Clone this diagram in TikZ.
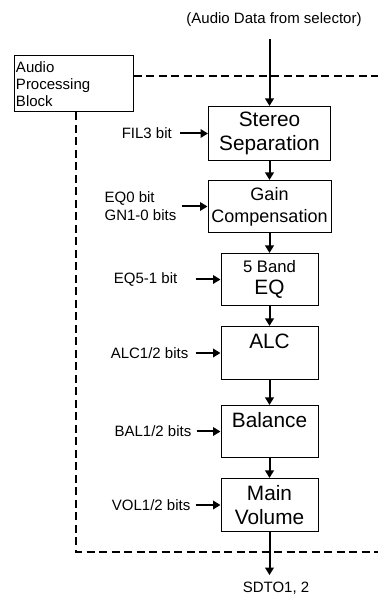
\documentclass[tikz,border=0pt]{standalone}
\usepackage{fontspec}
\setmainfont{Liberation Sans}
\usetikzlibrary{positioning}
\usetikzlibrary{arrows.meta}
\tikzset{x=1pt, y=1pt,
    block/.style={
        draw,
        line width=1pt,
        align=center,
        inner sep=2pt,
        minimum width=97pt,
        minimum height=52pt,
        font=\fontsize{20.8}{24.5}\selectfont},
    tag/.style={
        inner sep=0pt,
        align=left,
        font=\fontsize{15}{18}\selectfont},
    frame/.style={
        line width=2pt,
        dash pattern=on 8pt off 4.5pt},
    flow/.style={
        draw,
        line width=2pt,
        -{Triangle[length=7.5pt,width=8.5pt]}}}

\begin{document}
\begin{tikzpicture}
        \useasboundingbox (0,0) rectangle (378,599);

        \node[block, minimum width=122pt, minimum height=54pt] (sep) at (269.5,465.5) {Stereo\\Separation};
        \node[block, below=19pt of sep, minimum width=123pt, font=\fontsize{18}{22}\selectfont] (gain) {Gain\\Compensation};
        \node[block, below=20pt of gain, font=\fontsize{20.8}{22}\selectfont] (eq) {{\fontsize{16.7}{20}\selectfont 5 Band}\\EQ};
        \node[block, below=20pt of eq, text height=15pt, text depth=24pt, inner ysep=7pt] (alc) {ALC};
        \node[block, below=25pt of alc, text height=15pt, text depth=23pt, inner ysep=7pt] (bal) {Balance};
        \node[block, below=20pt of bal, minimum height=53pt] (vol) {Main\\Volume};

        \node[draw, line width=1pt, tag, font=\fontsize{15}{17}\selectfont, text width=115pt,
              inner xsep=2pt, minimum height=56pt, anchor=north west] (apb) at (13.5,543.5) {Audio\\Processing\\Block};

        \node[tag] (src) at (274,579) {(Audio Data from selector)};
        \node[tag] (out) at (276,11) {SDTO1, 2};

        \node[tag, left=36pt of sep] (fil) {FIL3 bit};
        \node[tag, left=31pt of gain] (gn) {EQ0 bit\\GN1-0 bits};
        \node[tag, left=43pt of eq] (eqb) {EQ5-1 bit};
        \node[tag, left=32pt of alc] (alcb) {ALC1/2 bits};
        \node[tag, left=29pt of bal] (balb) {BAL1/2 bits};
        \node[tag, left=30pt of vol] (volb) {VOL1/2 bits};

        % dashed outline of the block
        \coordinate (ftr) at (378,523);
        \coordinate (fbl) at (76,47);
        \coordinate (fbr) at (378,47);
        \draw[frame] (apb.east |- ftr) -- (ftr);
        \draw[frame] (apb.south -| fbl) -- (fbl) -- (fbr);

        % signal path
        \draw[flow] ([yshift=-12pt]src.south -| sep.north) -- (sep);
        \draw[flow] (sep) -- (gain);
        \draw[flow] (gain) -- (eq);
        \draw[flow] (eq) -- (alc);
        \draw[flow] (alc) -- (bal);
        \draw[flow] (bal) -- (vol);
        \draw[flow] (vol) -- ([yshift=6.5pt]out.north -| vol.south);

        % register bits
        \draw[flow] ([xshift=8pt]fil.east) -- (sep);
        \draw[flow] ([xshift=5pt]gn.east) -- (gain);
        \draw[flow] ([xshift=18pt]eqb.east) -- (eq);
        \draw[flow] ([xshift=7pt]alcb.east) -- (alc);
        \draw[flow] ([xshift=5pt]balb.east) -- (bal);
        \draw[flow] ([xshift=5pt]volb.east) -- (vol);
\end{tikzpicture}
\end{document}
